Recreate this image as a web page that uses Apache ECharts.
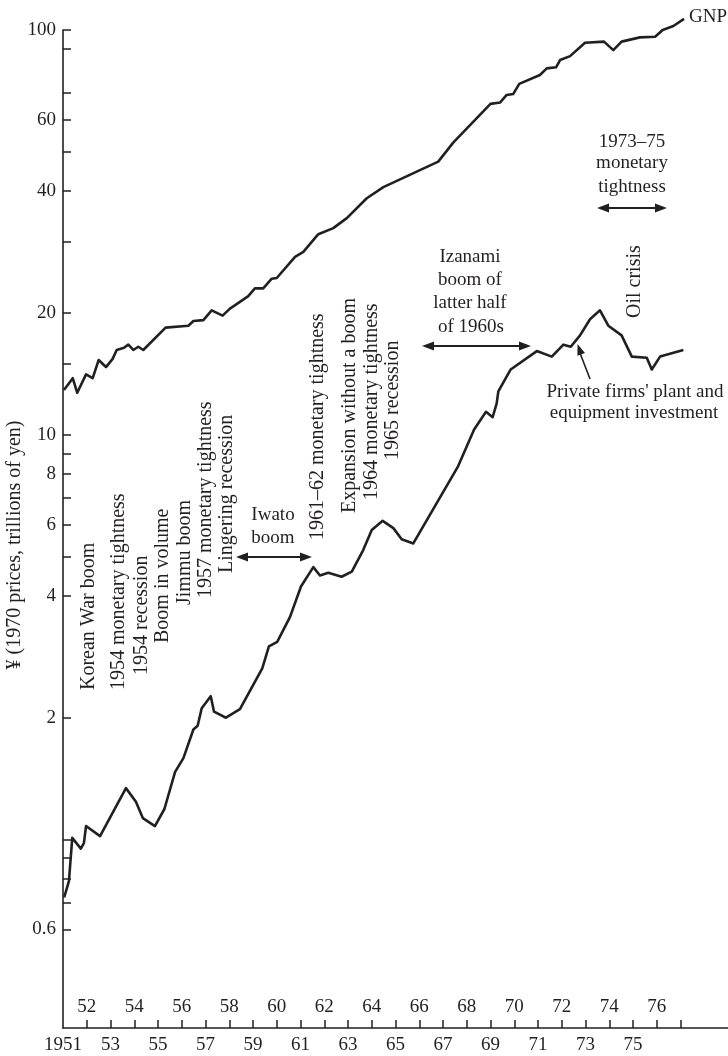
<!DOCTYPE html>
<html><head><meta charset="utf-8">
<script src="https://cdn.jsdelivr.net/npm/echarts@6/dist/echarts.min.js"></script>
<style>html,body{margin:0;padding:0;background:#fff}#c{width:728px;height:1056px}</style>
</head><body><div id="c"></div>
<script>
// ---- data ----
const gnpYears = [1951.04,1951.41,1951.60,1951.97,1952.25,1952.50,1952.81,1953.09,1953.26,1953.57,1953.75,1953.96,1954.17,1954.38,1955.32,1956.28,1956.49,1956.91,1957.26,1957.72,1958.03,1958.45,1958.80,1959.08,1959.43,1959.79,1960.00,1960.77,1961.12,1961.75,1962.38,1962.95,1963.79,1964.49,1966.80,1967.43,1969.00,1969.40,1969.68,1969.96,1970.21,1971.08,1971.37,1971.76,1971.93,1972.35,1972.98,1973.78,1974.17,1974.52,1975.29,1975.93,1976.25,1976.70,1977.15];
const gnpValues = [12.9,13.8,12.7,14.1,13.8,15.3,14.7,15.4,16.2,16.4,16.7,16.2,16.5,16.2,18.4,18.6,19.1,19.2,20.3,19.7,20.5,21.3,22.0,23.0,23.0,24.3,24.4,27.5,28.3,31.3,32.4,34.3,38.4,40.9,47.3,52.7,65.7,66.2,69.1,69.5,73.6,77.4,80.4,80.9,84.3,86.2,93.0,93.6,89.2,93.6,95.9,96.2,100,102.3,106.5];
const invYears = [1951.05,1951.25,1951.39,1951.75,1951.88,1951.97,1952.56,1953.65,1954.07,1954.36,1954.87,1955.27,1955.72,1956.07,1956.49,1956.67,1956.84,1957.22,1957.36,1957.86,1958.45,1959.39,1959.67,1960.02,1960.56,1961.02,1961.54,1961.82,1962.17,1962.73,1963.16,1963.64,1964.00,1964.46,1964.91,1965.26,1965.75,1967.64,1968.31,1968.81,1969.09,1969.26,1969.33,1969.85,1970.95,1971.58,1972.07,1972.38,1972.77,1973.19,1973.61,1973.96,1974.52,1974.95,1975.58,1975.79,1976.14,1977.12];
const invValues = [0.72,0.79,1.01,0.95,0.98,1.08,1.02,1.34,1.24,1.13,1.08,1.19,1.47,1.59,1.87,1.91,2.11,2.26,2.07,2.00,2.10,2.65,3.00,3.08,3.55,4.22,4.71,4.49,4.56,4.46,4.59,5.19,5.82,6.13,5.88,5.52,5.39,8.37,10.3,11.4,11.05,11.96,12.8,14.5,16.1,15.6,16.7,16.5,17.6,19.3,20.3,18.6,17.6,15.6,15.5,14.5,15.6,16.2];
const yLabelValues = [0.6,2,4,6,8,10,20,40,60,100];
const yMinorValues = [0.7,0.8,0.9,1,5,7,9,15,30,50,70,90];
const xTickYears = [1952,1953,1954,1955,1956,1957,1958,1959,1960,1961,1962,1963,1964,1965,1966,1967,1968,1969,1970,1971,1972,1973,1974,1975,1976,1977];
const xLowerLabels = [1951,1953,1955,1957,1959,1961,1963,1965,1967,1969,1971,1973,1975];
const xUpperLabels = [1952,1954,1956,1958,1960,1962,1964,1966,1968,1970,1972,1974,1976];
const yAxisTitle = '¥ (1970 prices, trillions of yen)';

// ---- chart ----
const INK = '#231f20';
const FONT = 'Liberation Serif, Times New Roman, serif';
const chart = echarts.init(document.getElementById('c'));
const zip = (a, b) => a.map((v, i) => [v, b[i]]);
const yrLabel = v => (v === 1951 ? '1951' : String(Math.round(v) % 100).padStart(2, '0'));

function arrowHead(tx, ty, fx, fy, len, half) {
  const dx = tx - fx, dy = ty - fy, d = Math.hypot(dx, dy);
  const ux = dx / d, uy = dy / d;
  const bx = tx - ux * len, by = ty - uy * len;
  return { type: 'polygon', shape: { points: [[tx, ty], [bx - uy * half, by + ux * half], [bx + uy * half, by - ux * half]] }, style: { fill: INK } };
}
function dblArrow(x1, x2, y) {
  return [
    { type: 'line', shape: { x1: x1 + 6, y1: y, x2: x2 - 6, y2: y }, style: { stroke: INK, lineWidth: 2 } },
    arrowHead(x1, y, x2, y, 12, 4.5),
    arrowHead(x2, y, x1, y, 12, 4.5)
  ];
}
function vtext(t, x, y) {
  return { type: 'text', x: x, y: y, rotation: Math.PI / 2, style: { text: t, font: '20px ' + FONT, fill: INK, align: 'left', verticalAlign: 'middle' } };
}
function htext(t, x, y) {
  return { type: 'text', x: x, y: y, style: { text: t, font: '19px ' + FONT, fill: INK, align: 'center', verticalAlign: 'middle' } };
}

const graphics = [
  { type: 'text', x: 15, y: 545, rotation: Math.PI / 2, style: { text: yAxisTitle, font: '20px ' + FONT, fill: INK, align: 'center', verticalAlign: 'middle' } },
  vtext('Korean War boom', 89, 690),
  vtext('1954 monetary tightness', 119, 690),
  vtext('1954 recession', 142, 675),
  vtext('Boom in volume', 163, 643),
  vtext('Jimmu boom', 185, 605),
  vtext('1957 monetary tightness', 206, 598),
  vtext('Lingering recession', 227, 573),
  vtext('1961\u201362 monetary tightness', 318, 540),
  vtext('Expansion without a boom', 350, 513),
  vtext('1964 monetary tightness', 372, 500),
  vtext('1965 recession', 393, 460),
  vtext('Oil crisis', 635, 318),
  htext('Iwato', 273, 515),
  htext('boom', 273, 538),
  ...dblArrow(236, 312, 557),
  htext('Izanami', 470, 257),
  htext('boom of', 470, 280),
  htext('latter half', 470, 303),
  htext('of 1960s', 471, 327),
  ...dblArrow(422, 531, 346),
  htext('1973\u201375', 632, 142),
  htext('monetary', 632, 163),
  htext('tightness', 632, 187),
  ...dblArrow(597, 667, 208),
  { type: 'text', x: 689, y: 17, style: { text: 'GNP', font: '19px ' + FONT, fill: INK, align: 'left', verticalAlign: 'middle' } },
  htext("Private firms' plant and", 635, 392),
  htext('equipment investment', 634, 413),
  { type: 'line', shape: { x1: 590, y1: 379, x2: 580, y2: 353 }, style: { stroke: INK, lineWidth: 1.6 } },
  arrowHead(577.5, 344, 590, 379, 11, 4)
];

const baseX = {
  type: 'value', min: 1951, max: 1979, gridIndex: 0, position: 'bottom',
  splitLine: { show: false }
};

chart.setOption({
  animation: false,
  backgroundColor: '#fff',
  grid: { left: 63, right: 0, top: 30, bottom: 28, containLabel: false },
  xAxis: [
    Object.assign({}, baseX, {
      axisLine: { show: true, lineStyle: { color: INK, width: 1.6 } },
      axisTick: { show: true, inside: true, length: 8, customValues: xTickYears, lineStyle: { color: INK, width: 1.5 } },
      axisLabel: { show: true, customValues: xLowerLabels, formatter: yrLabel, margin: 8, color: INK, fontFamily: FONT, fontSize: 19 }
    }),
    Object.assign({}, baseX, {
      axisLine: { show: false },
      axisTick: { show: false },
      axisLabel: { show: true, inside: true, customValues: xUpperLabels, formatter: yrLabel, margin: 11, color: INK, fontFamily: FONT, fontSize: 19 }
    })
  ],
  yAxis: {
    type: 'log', logBase: 10, min: 0.3424, max: 100,
    splitLine: { show: false },
    axisLine: { show: true, lineStyle: { color: INK, width: 1.6 } },
    axisTick: { show: true, inside: true, length: 8, customValues: yLabelValues.concat(yMinorValues), lineStyle: { color: INK, width: 1.5 } },
    axisLabel: { show: true, customValues: yLabelValues, margin: 7, color: INK, fontFamily: FONT, fontSize: 19,
      formatter: v => (v < 1 ? (Math.round(v * 10) / 10).toFixed(1) : String(Math.round(v))) }
  },
  series: [
    { name: 'GNP', type: 'line', data: zip(gnpYears, gnpValues), showSymbol: false, clip: false,
      lineStyle: { color: INK, width: 2.6, join: 'round' }, itemStyle: { color: INK } },
    { name: 'Investment', type: 'line', data: zip(invYears, invValues), showSymbol: false, clip: false,
      lineStyle: { color: INK, width: 2.6, join: 'round' }, itemStyle: { color: INK } }
  ],
  graphic: graphics
});
</script></body></html>
